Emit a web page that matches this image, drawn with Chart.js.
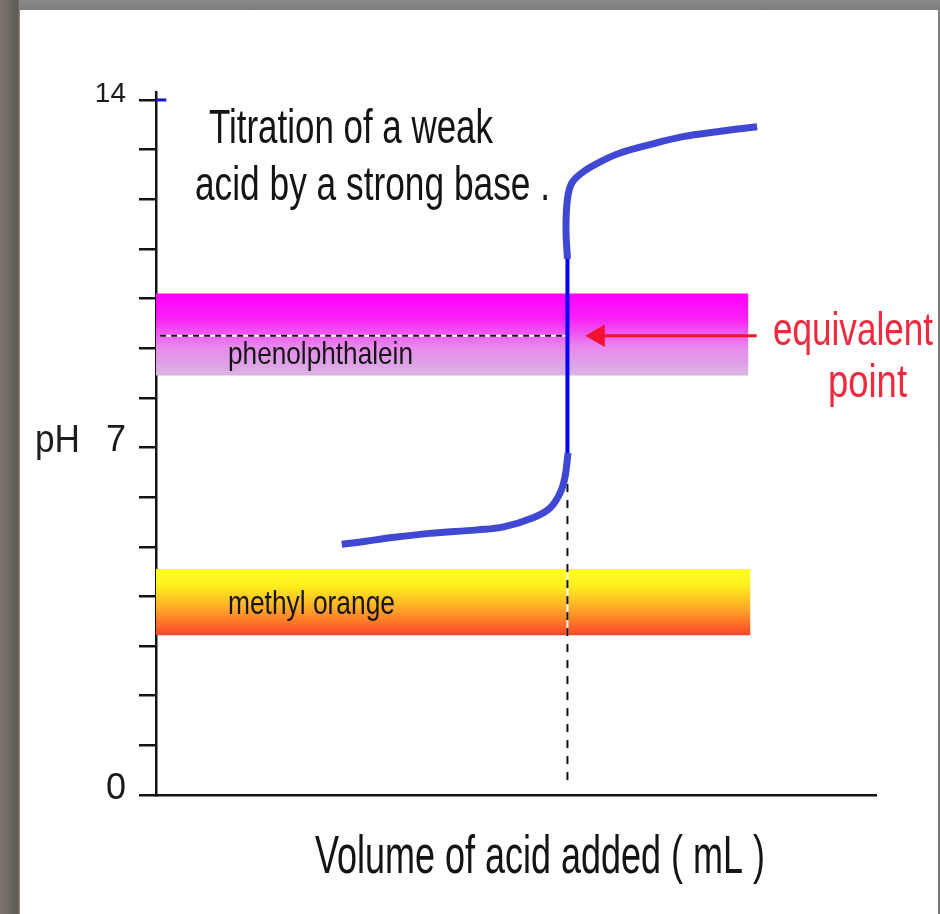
<!DOCTYPE html>
<html>
<head>
<meta charset="utf-8">
<script src="https://cdn.jsdelivr.net/npm/chart.js@4.4.1/dist/chart.umd.min.js"></script>
<style>
  html, body { margin: 0; padding: 0; width: 940px; height: 914px; overflow: hidden; }
  body { background: linear-gradient(to bottom, #8b8987 0px, #7f7d7b 10px, #7a7876 100%); position: relative; }
  #leftbar { position: absolute; left: 0; top: 0; width: 20px; height: 914px;
    background: linear-gradient(to right, #7d7670 0px, #6a645f 12px, #5e5955 18px, #9a9590 20px); }
  #paper { position: absolute; left: 20px; top: 10px; width: 918px; height: 904px; background: #fff; }
  #chart { position: absolute; left: 0; top: 0; }
</style>
</head>
<body>
<div id="leftbar"></div>
<div id="paper"></div>
<canvas id="chart" width="940" height="914"></canvas>
<script>
// volume (arbitrary mL units) and pH
const lowerVol = [9.03, 10.2, 11.2, 13.3, 15.6, 16.9, 18.3, 19.15, 19.64, 19.88, 20.03];
const lowerPH  = [5.05, 5.11, 5.17, 5.27, 5.34, 5.40, 5.58, 5.78, 6.08, 6.40, 6.89];
const steepVol = [20, 20];
const steepPH  = [6.85, 10.9];
const upperVol = [20, 19.93, 20, 20.22, 20.76, 21.58, 22.56, 24.01, 25.62, 27.27, 29.22];
const upperPH  = [10.8, 11.4, 12.0, 12.33, 12.55, 12.75, 12.93, 13.1, 13.26, 13.36, 13.46];

// indicator ranges (pH)
const phenolRange = [8.45, 10.1];
const methylRange = [3.22, 4.55];
const phenolEnd = 28.8;
const methylEnd = 28.9;

const eqVol = 20;
const eqPH = 9.25;
const eqLineVol = [0.2, 20];
const eqDropPH = [0.3, 6.8];
const arrowVol = [29.2, 21.5];
const topMarkVol = [0, 0.5];

const yTickValues = [0, 1, 2, 3, 4, 5, 6, 7, 8, 9, 10, 11, 12, 13, 14];
const yShown = [0, 7, 14];

const titleLines = ['Titration of a weak', 'acid by a strong base .'];
const xTitle = 'Volume of acid added ( mL )';
const yTitle = 'pH';
const eqLabel = ['equivalent', 'point'];

const pts = (xs, ys) => xs.map((x, i) => ({ x, y: ys[i] }));
const flat = (xs, y) => xs.map(x => ({ x, y }));

function bandFill(range, stops) {
  return (c) => {
    const chart = c.chart;
    if (!chart.chartArea) return 'rgba(0,0,0,0)';
    const y = chart.scales.y;
    const g = chart.ctx.createLinearGradient(0, y.getPixelForValue(range[1]), 0, y.getPixelForValue(range[0]));
    stops.forEach(([p, col]) => g.addColorStop(p, col));
    return g;
  };
}

const FONT = "'Liberation Sans Narrow', 'Liberation Sans', Arial, sans-serif";

function fitText(ctx, str, left, baseline, size, color, width) {
  ctx.save();
  ctx.font = size + 'px ' + FONT;
  ctx.fillStyle = color;
  ctx.textBaseline = 'alphabetic';
  ctx.textAlign = 'left';
  const w = ctx.measureText(str).width;
  ctx.translate(left, baseline);
  ctx.scale(width / w, 1);
  ctx.fillText(str, 0, 0);
  ctx.restore();
}

const labelsPlugin = {
  id: 'labels',
  afterDatasetsDraw(chart) {
    const ctx = chart.ctx;
    fitText(ctx, titleLines[0], 209, 143, 49, '#141414', 284);
    fitText(ctx, titleLines[1], 195, 200, 49, '#141414', 355);
    fitText(ctx, 'phenolphthalein', 228, 364, 32, '#161616', 185);
    fitText(ctx, 'methyl orange', 228, 614, 33, '#161616', 167);
    fitText(ctx, eqLabel[0], 773, 345, 46, '#ef2a3e', 160);
    fitText(ctx, eqLabel[1], 828, 397, 46, '#ef2a3e', 79);
    fitText(ctx, yTitle, 35, 452, 38, '#1e1e1e', 45);
    fitText(ctx, xTitle, 315, 873, 53, '#141414', 450);
  }
};

const BLUE = '#3f47d3';
const line = (data, extra) => Object.assign({
  data, borderWidth: 2, pointRadius: 0, fill: false, tension: 0
}, extra);

new Chart(document.getElementById('chart'), {
  type: 'line',
  data: {
    datasets: [
      line(flat([0, phenolEnd], phenolRange[1]), {
        order: 20, borderWidth: 0, fill: '+1',
        backgroundColor: bandFill(phenolRange, [[0, '#ff00ff'], [0.3, '#f820f8'], [0.65, '#e888ec'], [1, '#d9b4e2']])
      }),
      line(flat([0, phenolEnd], phenolRange[0]), { order: 20, borderWidth: 0 }),
      line(flat([0, methylEnd], methylRange[1]), {
        order: 20, borderWidth: 0, fill: '+1',
        backgroundColor: bandFill(methylRange, [[0, '#ffff22'], [0.25, '#fff01e'], [0.6, '#ffa828'], [1, '#fb4428']])
      }),
      line(flat([0, methylEnd], methylRange[0]), { order: 20, borderWidth: 0 }),
      line(flat(eqLineVol, eqPH), { order: 12, borderColor: '#ffffff', borderWidth: 2 }),
      line(flat(eqLineVol, eqPH), { order: 11, borderColor: '#111111', borderWidth: 2, borderDash: [6, 5] }),
      line(eqDropPH.map(y => ({ x: eqVol, y })), { order: 12, borderColor: '#ffffff', borderWidth: 2 }),
      line(eqDropPH.map(y => ({ x: eqVol, y })), { order: 11, borderColor: '#111111', borderWidth: 2, borderDash: [8, 8] }),
      line(flat(arrowVol, eqPH), {
        order: 8, borderColor: '#f21230', borderWidth: 3,
        pointRadius: (c) => c.dataIndex === 1 ? 13 : 0,
        pointStyle: 'triangle', pointRotation: -90,
        pointBackgroundColor: '#f21230', pointBorderWidth: 0
      }),
      line(pts(steepVol, steepPH), { order: 3, borderColor: '#0000ff', borderWidth: 4 }),
      line(pts(lowerVol, lowerPH), { order: 2, borderColor: BLUE, borderWidth: 7, tension: 0.4 }),
      line(pts(upperVol, upperPH), { order: 2, borderColor: BLUE, borderWidth: 7, tension: 0.4 }),
      line(flat(topMarkVol, 14), { order: 1, borderColor: '#1010e0', borderWidth: 3 })
    ]
  },
  options: {
    responsive: false,
    animation: false,
    events: [],
    layout: { padding: { left: 0, right: 64, top: 92, bottom: 119 } },
    plugins: { legend: { display: false }, title: { display: false }, tooltip: { enabled: false } },
    scales: {
      x: {
        type: 'linear', min: 0, max: 35,
        grid: { display: false },
        border: { display: true, color: '#141414', width: 2.5 },
        ticks: { display: false },
        afterFit: (s) => { s.height = 0; }
      },
      y: {
        type: 'linear', min: 0, max: 14.16,
        afterBuildTicks: (s) => { s.ticks = yTickValues.map(value => ({ value })); },
        afterFit: (s) => { s.width = 156; },
        grid: { display: true, drawOnChartArea: false, drawTicks: true, tickLength: 17, color: '#141414', lineWidth: 2.5 },
        border: { display: true, color: '#141414', width: 2.5 },
        ticks: {
          autoSkip: false, padding: 13, labelOffset: -6, color: '#1a1a1a',
          font: (c) => ({ family: FONT, size: c.tick && c.tick.value === 14 ? 28 : 36 }),
          callback: (v) => yShown.includes(v) ? String(v) : ''
        }
      }
    }
  },
  plugins: [labelsPlugin]
});
</script>
</body>
</html>
